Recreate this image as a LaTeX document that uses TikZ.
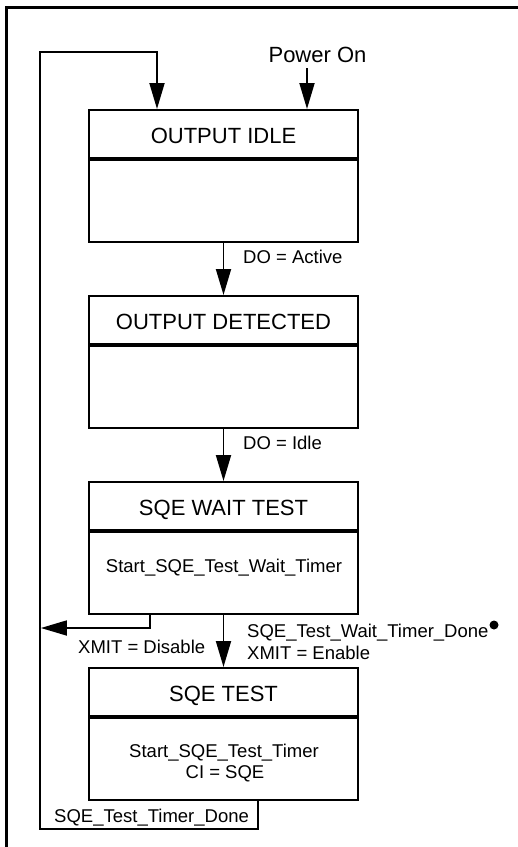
\documentclass[tikz,border=0pt]{standalone}
\usepackage{fontspec}
\setmainfont{Liberation Sans}
\usetikzlibrary{arrows.meta}
\newcommand\ttlfont{\fontsize{22}{26}\selectfont}
\newcommand\lblfont{\fontsize{18.5}{21}\selectfont}
\begin{document}
\begin{tikzpicture}[x=1pt,y=1pt,
  ttl/.style={draw, line width=1.8pt, minimum width=269pt, minimum height=48pt,
    inner sep=0pt, font=\ttlfont, text height=19.8pt, text depth=0pt, anchor=north},
  bodybox/.style={draw, line width=1.8pt, minimum width=269pt, minimum height=82pt,
    inner sep=0pt, anchor=north},
  lbl/.style={font=\lblfont, inner sep=0pt, anchor=base west},
  ctr/.style={font=\lblfont, inner sep=0pt, anchor=base},
  arr/.style={line width=1.8pt, -{Triangle[length=26pt,width=15pt]}}]
\useasboundingbox (0,0) rectangle (518,-847);
% outer frame
\draw[line width=3.8pt, line join=miter] (518,-7.5) -- (6.5,-7.5) -- (6.5,-847);

% states
\node[ttl] (idleT) at (223.5,-109) {OUTPUT IDLE};
\node[bodybox] (idleB) at (idleT.south) {};
\node[ttl] (detT) at (223.5,-295) {OUTPUT DETECTED};
\node[bodybox] (detB) at (detT.south) {};
\node[ttl] (waitT) at (223.5,-481) {SQE WAIT TEST};
\node[bodybox] (waitB) at (waitT.south) {};
\node[ttl] (testT) at (223.5,-667) {SQE TEST};
\node[bodybox] (testB) at (testT.south) {};

% body texts
\node[ctr] (waitA) at (224,-572) {Start\_SQE\_Test\_Wait\_Timer};
\node[ctr] (testA) at (224,-757) {Start\_SQE\_Test\_Timer};
\node[ctr] (testC) at (225,-778) {CI = SQE};

% power on
\node[font=\ttlfont, inner sep=0pt, anchor=base] (pwr) at (317.5,-62) {Power On};
\coordinate (pwrA) at (307,-68);
\draw[arr] (pwrA) -- ([xshift=83.5pt]idleT.north);

% main transitions
\draw[arr] (idleB.south) -- (detT.north);
\node[lbl] (l1) at (243,-263.6) {DO = Active};
\draw[arr] (detB.south) -- (waitT.north);
\node[lbl] (l2) at (243,-449.6) {DO = Idle};
\draw[arr] (waitB.south) -- (testT.north);
\node[lbl] (l3) at (247,-637) {SQE\_Test\_Wait\_Timer\_Done};
\node[lbl] (l4) at (247,-659) {XMIT = Enable};
\node[circle, fill, inner sep=0pt, minimum size=9pt] (dot) at (494,-625) {};

% loop back
\coordinate (lb) at (40,-829);
\coordinate (lt) at (40,-52);
\draw[arr, line join=miter] ([xshift=34.5pt]testB.south) |- (lb) -- (lt) -| ([xshift=-66.5pt]idleT.north);
\node[lbl] (l5) at (54,-822) {SQE\_Test\_Timer\_Done};

% disable branch
\coordinate (lj) at (40.9,-628);
\draw[arr, line join=miter] ([xshift=-73.5pt]waitB.south) |- (lj);
\node[lbl] (l6) at (78,-653.6) {XMIT = Disable};
\end{tikzpicture}
\end{document}
